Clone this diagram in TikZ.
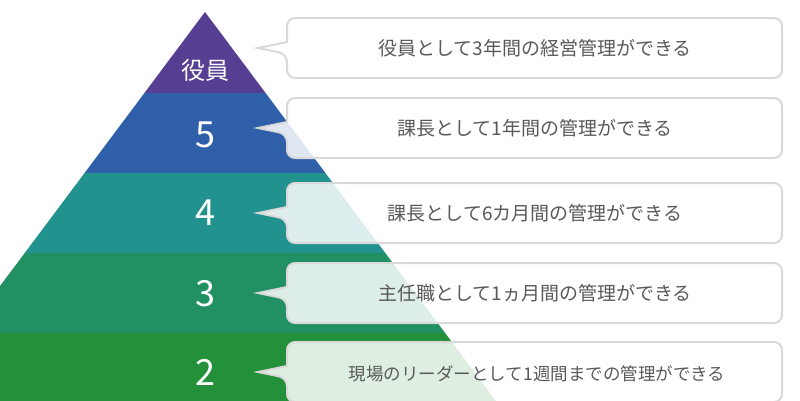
\documentclass[tikz,border=0pt]{standalone}
\usepackage{fontspec}
\newfontfamily\cjk{Noto Sans CJK JP}
\begin{document}
\begin{tikzpicture}[x=1pt,y=-1pt,
  lvl/.style={text=white,font=\cjk\fontsize{36}{36}\selectfont\addfontfeature{}},
  lbl/.style={text=black!65,font=\cjk\fontsize{19}{19}\selectfont},
  bub/.style={fill=white,fill opacity=0.85,draw=black!15,line width=2pt,rounded corners=8pt}]
\useasboundingbox (0,0) rectangle (800,400);
\begin{scope}
\clip (0,0) rectangle (800,400);
\def\py#1{205-0.748*(#1-12)}
\fill[fill={rgb,255:red,86;green,62;blue,146}] (205,12) -- (205-0.748*81,93) -- (205+0.748*81,93) -- cycle;
\fill[fill={rgb,255:red,46;green,95;blue,168}] (205-0.748*81,93) -- (205+0.748*81,93) -- (205+0.748*161,173) -- (205-0.748*161,173) -- cycle;
\fill[fill={rgb,255:red,34;green,146;blue,143}] (205-0.748*161,173) -- (205+0.748*161,173) -- (205+0.748*241,253) -- (205-0.748*241,253) -- cycle;
\fill[fill={rgb,255:red,33;green,144;blue,98}] (205-0.748*241,253) -- (205+0.748*241,253) -- (205+0.748*321,333) -- (205-0.748*321,333) -- cycle;
\fill[fill={rgb,255:red,34;green,145;blue,58}] (205-0.748*321,333) -- (205+0.748*321,333) -- (205+0.748*400,412) -- (205-0.748*400,412) -- cycle;
\end{scope}
\node[lvl,font=\cjk\fontsize{24}{24}\selectfont] (l6) at (205,70) {役員};
\node[lvl] (l5) at (205,135) {5};
\node[lvl] (l4) at (205,213) {4};
\node[lvl] (l3) at (205,294) {3};
\node[lvl] (l2) at (205,372) {2};
\foreach \t/\b in {18/78,98/158,183/243,263/323,342/402}{
  \pgfmathsetmacro\m{(\t+\b)/2}
  \draw[bub] (287,\t) -- (782,\t) -- (782,\b) -- (287,\b) -- (287,\m+6) [sharp corners]-- (258,\m) -- (287,\m-6) [rounded corners=8pt]-- cycle;
}
\node[lbl] (t6) at (535,48) {役員として3年間の経営管理ができる};
\node[lbl] (t5) at (535,128) {課長として1年間の管理ができる};
\node[lbl] (t4) at (535,213) {課長として6カ月間の管理ができる};
\node[lbl] (t3) at (535,293) {主任職として1ヵ月間の管理ができる};
\node[lbl,font=\cjk\fontsize{17.5}{17.5}\selectfont] (t2) at (537,374) {現場のリーダーとして1週間までの管理ができる};
\end{tikzpicture}
\end{document}
